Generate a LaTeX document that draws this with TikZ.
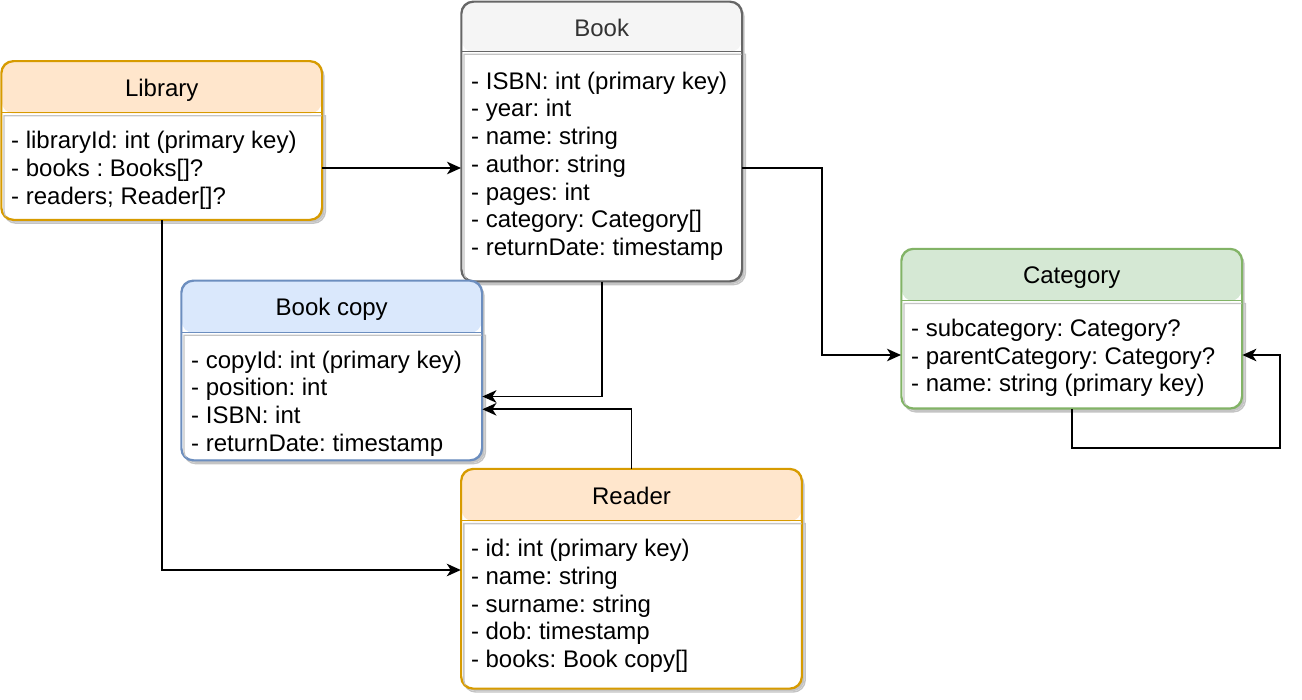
\documentclass[tikz,border=0pt]{standalone}
\usepackage{fontspec}
\setmainfont{Liberation Sans}
\usetikzlibrary{arrows.meta,shadows,calc}
\frenchspacing
\definecolor{orF}{HTML}{FFE6CC}\definecolor{orS}{HTML}{D79B00}
\definecolor{grF}{HTML}{F5F5F5}\definecolor{grS}{HTML}{666666}
\definecolor{blF}{HTML}{DAE8FC}\definecolor{blS}{HTML}{6C8EBF}
\definecolor{gnF}{HTML}{D5E8D4}\definecolor{gnS}{HTML}{82B366}
\definecolor{shd}{HTML}{C4C4C4}
\definecolor{ttlgrey}{HTML}{333333}
\tikzset{
  cls/.style={draw, fill=white, line width=1.4pt, rounded corners=12pt, inner sep=0pt,
    drop shadow={shadow xshift=3pt, shadow yshift=-3pt, fill=shd, opacity=1}},
  bodyshd/.style={draw=shd, line width=1.4pt, rounded corners=12pt},
  txt/.style={font=\fontsize{24}{28}\selectfont, inner sep=0pt},
  conn/.style={draw=black, line width=1.9pt, -{Stealth[length=14pt,width=12.5pt,inset=4pt]}},
}
% #1 name, #2 cx, #3 cy, #4 w, #5 h, #6 header height, #7 fill, #8 stroke, #9 title
\newcommand\umlbox[9]{%
  \node[cls, draw=#8, minimum width=#4pt, minimum height=#5pt,
    path picture={\fill[#7] (path picture bounding box.north west) rectangle ([yshift=-#6pt]path picture bounding box.north east);}]
    (#1) at (#2,#3) {};
  \draw[bodyshd] ([shift={(3pt,-#6pt-3pt)}]#1.north west) [sharp corners] -- ([shift={(3pt,-#6pt-3pt)}]#1.north east) [rounded corners=12pt]
     -- ([shift={(3pt,-3pt)}]#1.south east) -- ([shift={(3pt,-3pt)}]#1.south west) [sharp corners] -- cycle;
  \draw[#8, line width=1.4pt] ([yshift=-#6pt]#1.north west) -- ([yshift=-#6pt]#1.north east);
  \draw[#8, line width=1.4pt, rounded corners=12pt] (#1.north west) rectangle (#1.south east);
  \node[txt, anchor=base] (#1-t) at ([yshift=-35.5pt]#1.north) {#9};
}
\newcommand\umlrows[2]{%
  \foreach \r [count=\i] in {#2}
    \node[txt, anchor=base west] (#1-r\i) at ([shift={(10pt,-88pt-27.7pt*\i+27.7pt)}]#1.north west) {\r};
}
\begin{document}
\begin{tikzpicture}[x=1pt,y=-1pt]
\useasboundingbox (0,0) rectangle (1302,700);
\fill[white] (0,0) rectangle (1302,700);

\umlbox{lib}{161.7}{140.5}{320}{158}{52}{orF}{orS}{Library}
\umlrows{lib}{{- libraryId: int (primary key)},{- books : Books[]?},{- readers; Reader[]?}}

\umlbox{book}{601.7}{141.5}{280}{279}{50}{grF}{grS}{\color{ttlgrey}Book}
\umlrows{book}{{- ISBN: int (primary key)},{- year: int},{- name: string},{- author: string},{- pages: int},{- category: Category[]},{- returnDate: timestamp}}

\umlbox{copy}{331.7}{370.5}{300}{179}{52}{blF}{blS}{Book copy}
\umlrows{copy}{{- copyId: int (primary key)},{- position: int},{- ISBN: int},{- returnDate: timestamp}}

\umlbox{cat}{1071.7}{328.7}{340}{159}{52}{gnF}{gnS}{Category}
\umlrows{cat}{{- subcategory: Category?},{- parentCategory: Category?},{- name: string (primary key)}}

\umlbox{reader}{631.5}{578.8}{340}{219}{52}{orF}{orS}{Reader}
\umlrows{reader}{{- id: int (primary key)},{- name: string},{- surname: string},{- dob: timestamp},{- books: Book copy[]}}

% connectors
\draw[conn] (lib.east |- 0,168) -- (book.west |- 0,168);
\draw[conn] (lib.south) |- (reader.west |- 0,570);
\draw[conn] (book.south) |- (copy.east |- 0,396.5);
\draw[conn] (reader.north) |- (copy.east |- 0,409.3);
\draw[conn] (book.east |- 0,168) -- ++(79.3,0) |- (cat.west |- 0,355);
\coordinate (loopc) at (1280,448.3);
\draw[conn] (cat.south) |- (loopc) |- (cat.east |- 0,355);
\end{tikzpicture}
\end{document}
